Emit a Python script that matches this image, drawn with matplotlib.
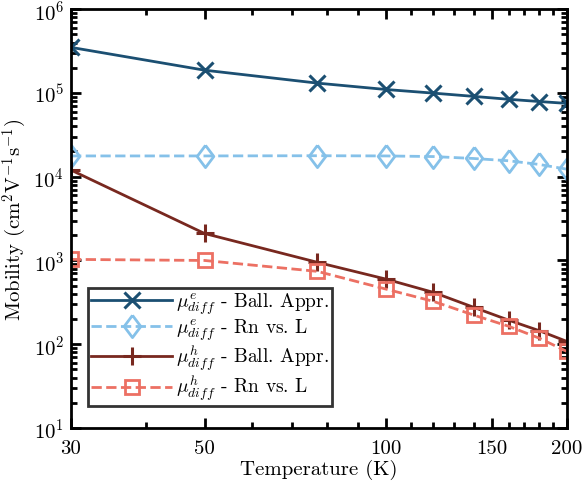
import matplotlib
matplotlib.use("Agg")
import matplotlib.pyplot as plt
from matplotlib.ticker import FixedLocator, NullFormatter, LogLocator

plt.rcParams['font.family'] = 'serif'
plt.rcParams['font.serif'] = ['cmr10']
plt.rcParams['mathtext.fontset'] = 'cm'
plt.rcParams['axes.formatter.use_mathtext'] = True

temps = [30, 50, 77, 100, 120, 140, 160, 180, 200]
mu_e_ball = [3.5e5, 1.87e5, 1.31e5, 1.1e5, 9.95e4, 9.1e4, 8.4e4, 7.9e4, 7.5e4]
mu_e_rn = [1.77e4, 1.77e4, 1.78e4, 1.77e4, 1.74e4, 1.65e4, 1.55e4, 1.4e4, 1.23e4]
mu_h_ball = [1.2e4, 2.1e3, 950, 600, 416, 276, 194, 145, 108]
mu_h_rn = [1.03e3, 1.0e3, 741, 456, 325, 223, 164, 118, 82]

labels = [r'$\mu^{e}_{diff}$ - Ball. Appr.', r'$\mu^{e}_{diff}$ - Rn vs. L',
          r'$\mu^{h}_{diff}$ - Ball. Appr.', r'$\mu^{h}_{diff}$ - Rn vs. L']
colors = ['#1B4F72', '#85C1E9', '#78281F', '#EC7063']

# matlab style diamond, a bit taller than wide
diamond = [(0, 1), (0.75, 0), (0, -1), (-0.75, 0), (0, 1)]

fig = plt.figure(figsize=(5.82, 4.85), dpi=100)
ax = fig.add_axes([0.122, 0.1155, 0.852, 0.8635])

ax.plot(temps, mu_e_ball, '-', color=colors[0], lw=2, marker='x', ms=12, mew=2.2, label=labels[0])
ax.plot(temps, mu_e_rn, '--', color=colors[1], lw=2, marker=diamond, ms=16, mew=2, mfc='none', label=labels[1])
ax.plot(temps, mu_h_ball, '-', color=colors[2], lw=2, marker='+', ms=13, mew=2.2, label=labels[2])
ax.plot(temps, mu_h_rn, '--', color=colors[3], lw=2, marker='s', ms=9.5, mew=2, mfc='none', label=labels[3])

ax.set_xscale('log')
ax.set_yscale('log')
ax.set_xlim(30, 200)
ax.set_ylim(10, 1e6)

ax.xaxis.set_major_locator(FixedLocator([30, 50, 100, 150, 200]))
ax.xaxis.set_minor_locator(FixedLocator([40, 60, 70, 80, 90, 110, 120, 130, 140, 160, 170, 180, 190]))
ax.xaxis.set_major_formatter(matplotlib.ticker.FixedFormatter(['30', '50', '100', '150', '200']))
ax.xaxis.set_minor_formatter(NullFormatter())
ax.yaxis.set_major_locator(LogLocator(base=10, numticks=10))
ax.yaxis.set_minor_locator(LogLocator(base=10, subs=range(2, 10), numticks=10))

for s in ax.spines.values():
    s.set_linewidth(2)
ax.tick_params(which='both', direction='in', top=True, right=True, width=2, labelsize=15)
ax.tick_params(which='major', length=7)
ax.tick_params(which='minor', length=4)
ax.tick_params(axis='x', which='major', pad=8)
ax.tick_params(axis='y', which='major', pad=5)

ax.set_xlabel('Temperature (K)', fontsize=15, labelpad=1)
ax.set_ylabel(r'Mobility (cm$^2$V$^{-1}$s$^{-1}$)', fontsize=15, labelpad=3)

leg = ax.legend(loc='lower left', bbox_to_anchor=(0.034, 0.052), fontsize=14, fancybox=False,
                edgecolor='#333333', framealpha=1, handlelength=4.2, borderpad=0.15,
                labelspacing=0.0, handletextpad=0.2, borderaxespad=0)
leg.get_frame().set_linewidth(2)

fig.savefig('out.png', dpi=100)
